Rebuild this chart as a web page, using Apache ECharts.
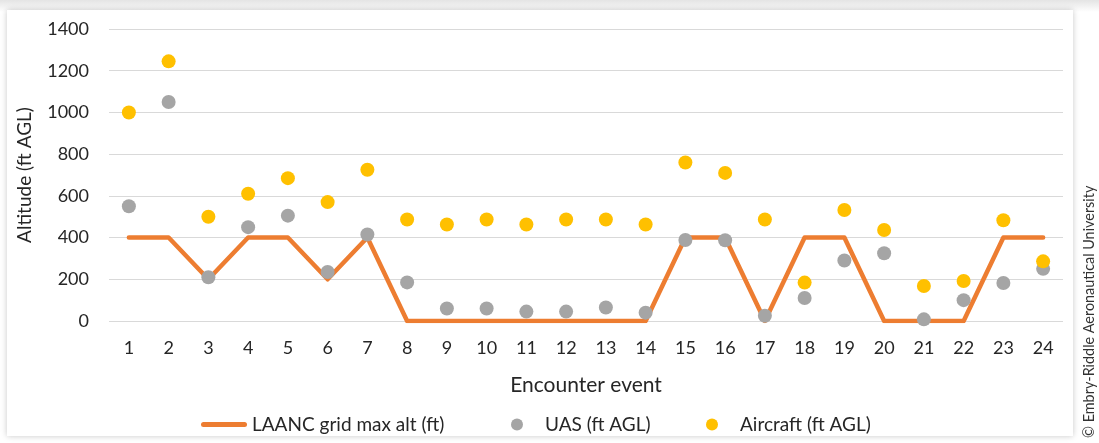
<!DOCTYPE html>
<html>
<head>
<meta charset="utf-8">
<script src="https://cdn.jsdelivr.net/npm/echarts@6/dist/echarts.min.js"></script>
<style>
  html, body { margin: 0; padding: 0; background: #ececec; }
  #wrap { position: relative; width: 1099px; height: 443px; overflow: hidden;
          background: linear-gradient(#e4e4e4, #ffffff 12px); }
  #frame { position: absolute; left: 7px; top: 10px; width: 1066px; height: 426px;
           background: #fff; box-shadow: 0 0 6px rgba(0,0,0,0.22); }
  #chart { position: absolute; left: 0; top: 0; width: 1099px; height: 443px; }
</style>
</head>
<body>
<div id="wrap">
  <div id="frame"></div>
  <div id="chart"></div>
</div>
<script>
// Encounter events 1..24
const categories = ['1','2','3','4','5','6','7','8','9','10','11','12','13','14','15','16','17','18','19','20','21','22','23','24'];

// LAANC grid maximum altitude (ft)
const laancMax = [400,400,200,400,400,200,400,0,0,0,0,0,0,0,400,400,0,400,400,0,0,0,400,400];

// UAS altitude (ft AGL)
const uasAlt = [550,1050,210,450,505,235,415,185,60,60,45,45,65,40,388,387,25,110,290,325,8,100,182,250];

// Aircraft altitude (ft AGL)
const aircraftAlt = [1000,1245,500,610,685,570,725,487,463,487,463,487,487,463,760,710,487,184,532,436,168,192,483,286];

// Value-axis ticks
const yTicks = { min: 0, max: 1400, interval: 200 };

const seriesNames = ['LAANC grid max alt (ft)', 'UAS (ft AGL)', 'Aircraft (ft AGL)'];

const FONT = 'Lato, "Open Sans", sans-serif';
const TEXT = '#262626';

// one legend block per entry so each sits at its own spot
const legendSpec = [
  { left: 196, w: 46, pad: 0, icon: 'path://M2.5,0 L43.5,0 A2.5,2.5 0 0 1 43.5,5 L2.5,5 A2.5,2.5 0 0 1 2.5,0 Z' },
  { left: 506, w: 12, pad: 17, icon: 'circle' },
  { left: 701, w: 12, pad: 17, icon: 'circle' }
];
const legends = seriesNames.map((name, i) => ({
  left: legendSpec[i].left,
  top: 410,
  itemWidth: legendSpec[i].w,
  itemHeight: 12,
  textStyle: { color: TEXT, fontSize: 19, fontFamily: FONT, padding: [0, 0, 0, legendSpec[i].pad] },
  data: [{ name: name, icon: legendSpec[i].icon }]
}));

const chart = echarts.init(document.getElementById('chart'), null, { renderer: 'canvas' });
chart.setOption({
  backgroundColor: 'transparent',
  animation: false,
  textStyle: { fontFamily: FONT },
  grid: { left: 109, right: 36, top: 29, bottom: 122, containLabel: false },
  xAxis: {
    type: 'category',
    data: categories,
    boundaryGap: true,
    name: 'Encounter event',
    nameLocation: 'middle',
    nameGap: 54,
    nameTextStyle: { color: TEXT, fontSize: 21, fontFamily: FONT },
    axisLine: { show: false },
    axisTick: { show: false },
    axisLabel: { color: TEXT, fontSize: 18, margin: 18, fontFamily: FONT, interval: 0 }
  },
  yAxis: {
    type: 'value',
    min: yTicks.min,
    max: yTicks.max,
    interval: yTicks.interval,
    name: 'Altitude (ft AGL)',
    nameLocation: 'middle',
    nameRotate: 90,
    nameGap: 75,
    nameTextStyle: { color: TEXT, fontSize: 19, fontFamily: FONT },
    axisLine: { show: false },
    axisTick: { show: false },
    axisLabel: { color: TEXT, fontSize: 18, margin: 20, fontFamily: FONT, formatter: v => String(v) },
    splitLine: { lineStyle: { color: '#d9d9d9', width: 1 } }
  },
  legend: legends,
  graphic: [{
    type: 'text',
    x: 1082,
    y: 438,
    rotation: Math.PI / 2,
    style: {
      text: '\u00A9 Embry-Riddle Aeronautical University',
      fill: '#333',
      font: '14.4px ' + FONT,
      textAlign: 'left',
      textVerticalAlign: 'top'
    }
  }],
  series: [
    {
      name: seriesNames[0],
      type: 'line',
      data: laancMax,
      symbol: 'none',
      lineStyle: { color: '#ED7D31', width: 4.5, cap: 'round', join: 'round' },
      itemStyle: { color: '#ED7D31' },
      z: 2
    },
    {
      name: seriesNames[1],
      type: 'scatter',
      data: uasAlt,
      symbol: 'circle',
      symbolSize: 14,
      itemStyle: { color: '#A5A5A5', opacity: 1 },
      z: 3
    },
    {
      name: seriesNames[2],
      type: 'scatter',
      data: aircraftAlt,
      symbol: 'circle',
      symbolSize: 14,
      itemStyle: { color: '#FFC000', opacity: 1 },
      z: 4
    }
  ]
});
</script>
</body>
</html>
